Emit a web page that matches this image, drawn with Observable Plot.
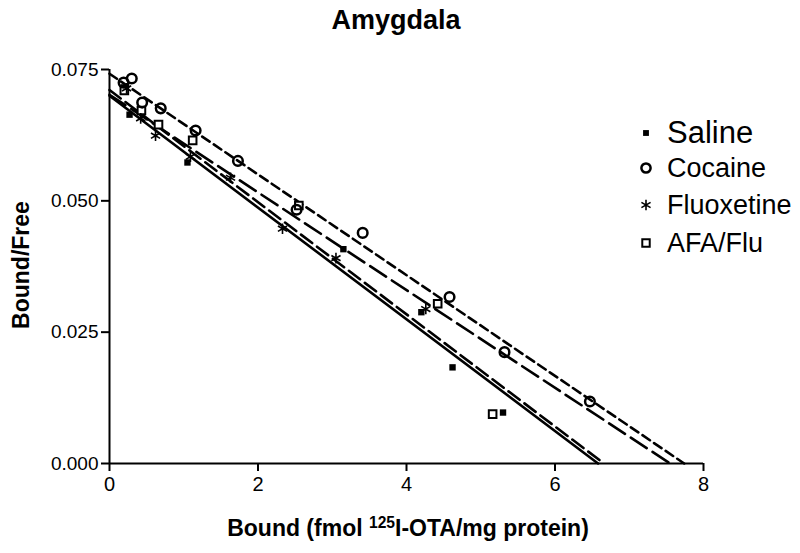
<!DOCTYPE html>
<html><head><meta charset="utf-8">
<script src="https://cdn.jsdelivr.net/npm/d3@7"></script>
<script src="https://cdn.jsdelivr.net/npm/@observablehq/plot@0.6"></script>
<style>
body{margin:0;background:#fff;}
#wrap{position:relative;width:800px;height:553px;font-family:"Liberation Sans",Arial,sans-serif;color:#000;}
.t{position:absolute;white-space:nowrap;line-height:1;}
</style></head><body><div id="wrap"></div>
<script>
const groups = ["Saline", "Cocaine", "Fluoxetine", "AFA/Flu"];

const salineX = [0.19, 0.27, 1.05, 3.15, 4.20, 4.62, 5.30];
const salineY = [0.0716, 0.0664, 0.0573, 0.0408, 0.0288, 0.0183, 0.0097];

const cocaineX = [0.19, 0.30, 0.44, 0.69, 1.16, 1.73, 2.52, 3.41, 4.58, 5.32, 6.47];
const cocaineY = [0.0725, 0.0733, 0.0687, 0.0676, 0.0634, 0.0576, 0.0483, 0.0439, 0.0317, 0.0212, 0.0118];

const fluoxetineX = [0.23, 0.42, 0.62, 1.09, 1.63, 2.33, 3.05, 4.26];
const fluoxetineY = [0.0714, 0.0657, 0.0624, 0.0584, 0.0544, 0.0447, 0.0391, 0.0294];

const afaX = [0.20, 0.43, 0.66, 1.12, 2.55, 4.42, 5.16];
const afaY = [0.0710, 0.0672, 0.0645, 0.0615, 0.0491, 0.0304, 0.0094];

// regression lines: value at x = 0 and x-intercept, per group
const lineYIntercept = [0.0700, 0.0742, 0.0711, 0.0702];
const lineXIntercept = [6.58, 7.74, 6.66, 7.55];

const xTicks = [0, 2, 4, 6, 8];
const yTicks = [0, 0.025, 0.050, 0.075];

const titleText = "Amygdala";
const yTitle = "Bound/Free";

const pts = (xs, ys) => xs.map((x, i) => ({x, y: ys[i]}));
const saline = pts(salineX, salineY);
const cocaine = pts(cocaineX, cocaineY);
const fluox = pts(fluoxetineX, fluoxetineY);
const afa = pts(afaX, afaY);
const lines = groups.map((g, i) => [{x: 0, y: lineYIntercept[i]}, {x: lineXIntercept[i], y: 0}]);
const dashes = [undefined, "9,5", "14,6", "19,7"];

const font = "'Liberation Sans', Arial, sans-serif";
const chart = Plot.plot({
  width: 800, height: 553,
  marginLeft: 109, marginRight: 97, marginTop: 69, marginBottom: 90,
  x: {domain: [0, 8]},
  y: {domain: [0, 0.075]},
  style: {fontFamily: font, fontSize: "19px", background: "white", color: "black"},
  marks: [
    Plot.axisX({ticks: xTicks, tickSize: 8, tickPadding: 5, fontSize: 20, label: null, strokeWidth: 2}),
    Plot.axisY({ticks: yTicks, tickFormat: d3.format(".3f"), tickSize: 8, tickPadding: 3, fontSize: 19, label: null, strokeWidth: 2}),
    Plot.ruleX([0], {strokeWidth: 2}),
    Plot.ruleY([0], {strokeWidth: 2}),
    ...lines.map((l, i) => Plot.line(l, {x: "x", y: "y", stroke: "black", strokeWidth: 2.6, strokeDasharray: dashes[i]})),
    Plot.dot(saline, {x: "x", y: "y", symbol: "square", fill: "black", stroke: "none", r: 3.6}),
    Plot.dot(afa, {x: "x", y: "y", symbol: "square", fill: "white", stroke: "black", strokeWidth: 2, r: 4.3}),
    Plot.dot(fluox, {x: "x", y: "y", symbol: "asterisk", stroke: "black", strokeWidth: 1.6, r: 5}),
    Plot.dot(cocaine, {x: "x", y: "y", symbol: "circle", fill: "white", fillOpacity: 0, stroke: "black", strokeWidth: 2.5, r: 4.8})
  ]
});
const wrap = document.getElementById("wrap");
wrap.appendChild(chart);

function addText(txt, css, html) {
  const d = document.createElement("div");
  d.className = "t";
  if (html) d.innerHTML = txt; else d.textContent = txt;
  Object.assign(d.style, css);
  wrap.appendChild(d);
  return d;
}
addText(titleText, {left: "396px", top: "7px", transform: "translateX(-50%)", fontSize: "27px", fontWeight: "bold"});
addText("Bound (fmol <sup style='font-size:0.68em;vertical-align:0.5em;line-height:0'>125</sup>I-OTA/mg protein)",
  {left: "408px", top: "517px", transform: "translateX(-50%)", fontSize: "23px", fontWeight: "bold"}, true);
addText(yTitle, {left: "21px", top: "265px", transform: "translate(-50%,-50%) rotate(-90deg)", fontSize: "23px", fontWeight: "bold"});

// legend
const legendSizes = [31, 27, 27, 27];
const legendBase = [143, 178, 215, 253];
const legendSym = [d3.symbolSquare, d3.symbolCircle, d3.symbolAsterisk, d3.symbolSquare];
const legendStyle = [
  {fill: "black", stroke: "none", sw: 0, r: 3.3},
  {fill: "none", stroke: "black", sw: 2.5, r: 4.6},
  {fill: "none", stroke: "black", sw: 1.6, r: 5},
  {fill: "none", stroke: "black", sw: 2, r: 4.2}
];
groups.forEach((g, i) => {
  addText(g, {left: "667px", top: (legendBase[i] - 0.8465 * legendSizes[i]) + "px", fontSize: legendSizes[i] + "px"});
  const s = legendStyle[i];
  const svg = d3.create("svg").attr("width", 20).attr("height", 20)
    .style("position", "absolute").style("left", "636px").style("top", (legendBase[i] - 10 - 10) + "px");
  svg.append("path").attr("transform", "translate(10,10)")
    .attr("d", d3.symbol(legendSym[i], Math.PI * s.r * s.r)())
    .attr("fill", s.fill).attr("stroke", s.stroke).attr("stroke-width", s.sw);
  wrap.appendChild(svg.node());
});
</script></body></html>
